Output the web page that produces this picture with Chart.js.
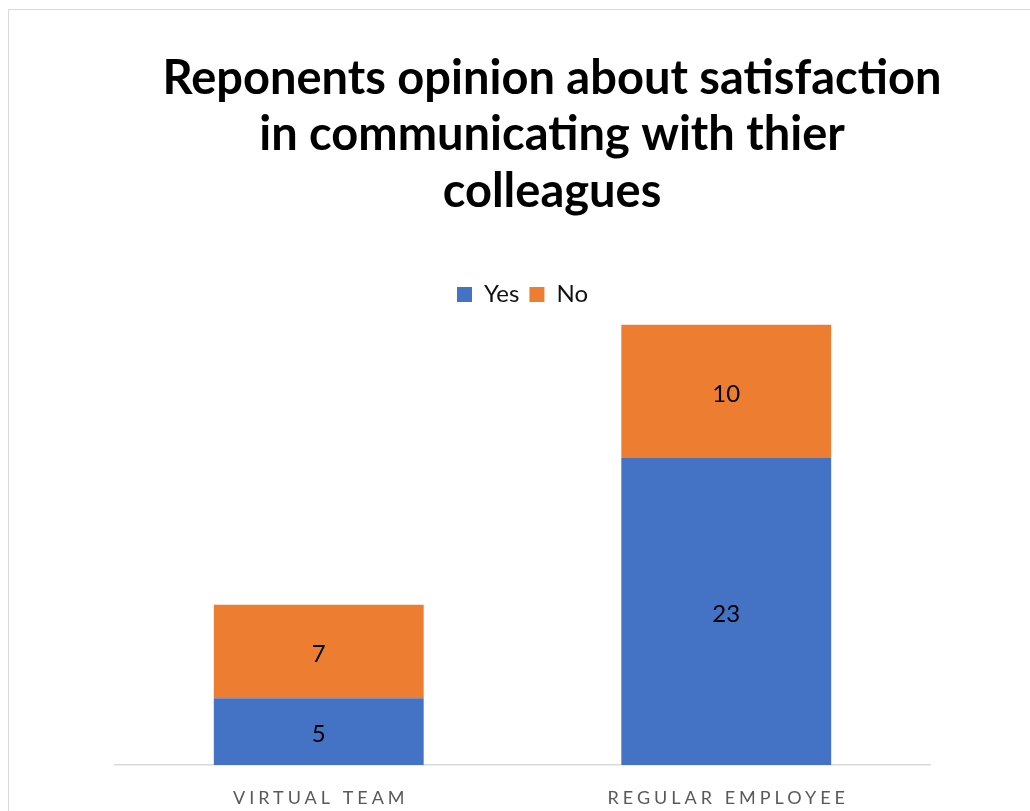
<!DOCTYPE html>
<html>
<head>
<meta charset="utf-8">
<script src="https://cdn.jsdelivr.net/npm/chart.js@4"></script>
<style>
  html, body { margin: 0; padding: 0; background: #fff; overflow: hidden; }
  #frame { position: absolute; left: 8px; top: 9px; width: 1200px; height: 1000px; border: 1px solid #d9d9d9; }
  #c { position: absolute; left: 0; top: 0; }
</style>
</head>
<body>
<div id="frame"></div>
<canvas id="c" width="1104" height="811"></canvas>
<script>
const categories = ['VIRTUAL TEAM', 'REGULAR EMPLOYEE'];
const yesValues = [5, 23];
const noValues = [7, 10];
const seriesNames = ['Yes', 'No'];
const titleLines = ['Reponents opinion about satisfaction', 'in communicating with thier', 'colleagues'];

const FONT = 'Lato, "Open Sans", sans-serif';

// number in the middle of every stacked segment
const segmentLabels = {
    id: 'segmentLabels',
    afterDatasetsDraw(chart) {
        const ctx = chart.ctx;
        ctx.save();
        ctx.font = '24px ' + FONT;
        ctx.fillStyle = '#000';
        ctx.textAlign = 'center';
        ctx.textBaseline = 'middle';
        chart.data.datasets.forEach((ds, i) => {
            chart.getDatasetMeta(i).data.forEach((bar, j) => {
                const { x, y, base } = bar.getProps(['x', 'y', 'base'], true);
                ctx.fillText(ds.data[j], x, (y + base) / 2 + 3);
            });
        });
        ctx.restore();
    }
};

// spaced-out category names under the axis
const categoryLabels = {
    id: 'categoryLabels',
    afterDraw(chart) {
        const ctx = chart.ctx;
        const xs = chart.scales.x;
        const spacing = 4;
        ctx.save();
        ctx.font = '18px ' + FONT;
        ctx.fillStyle = '#595959';
        ctx.textAlign = 'center';
        ctx.textBaseline = 'middle';
        ctx.letterSpacing = spacing + 'px';
        chart.data.labels.forEach((label, i) => {
            ctx.fillText(label, xs.getPixelForTick(i) + spacing / 2, chart.chartArea.bottom + 33);
        });
        ctx.restore();
    }
};

// a little more room between the legend and the bars
const legendGap = {
    id: 'legendGap',
    afterInit(chart) {
        const fit = chart.legend.fit;
        chart.legend.fit = function () {
            fit.call(this);
            this.height += 8;
        };
    }
};

const blankAxis = (position, width) => ({
    position,
    display: true,
    min: 0,
    max: 33,
    stacked: true,
    grid: { display: false, drawTicks: false },
    border: { display: false },
    ticks: { display: false },
    afterFit: s => { s.width = width; }
});

new Chart(document.getElementById('c'), {
    type: 'bar',
    data: {
        labels: categories,
        datasets: [
            { label: seriesNames[0], data: yesValues, backgroundColor: '#4472C4', borderWidth: 0 },
            { label: seriesNames[1], data: noValues, backgroundColor: '#ED7D31', borderWidth: 0 }
        ]
    },
    options: {
        responsive: false,
        animation: false,
        layout: { padding: { left: 0, right: 0, bottom: 38, top: 0 } },
        datasets: { bar: { categoryPercentage: 1, barPercentage: 0.515 } },
        plugins: {
            title: {
                display: true,
                text: titleLines,
                color: '#000',
                font: { family: FONT, size: 47, weight: 'bold', lineHeight: 1.21 },
                padding: { top: 50, bottom: 52 }
            },
            legend: {
                position: 'top',
                fullSize: false,
                labels: {
                    color: '#111',
                    boxWidth: 15,
                    boxHeight: 15,
                    padding: 10,
                    font: { family: FONT, size: 24 }
                }
            },
            tooltip: { enabled: false }
        },
        scales: {
            x: {
                stacked: true,
                grid: { display: false },
                border: { color: '#d9d9d9', width: 1.5 },
                ticks: { display: false }
            },
            y: blankAxis('left', 115),
            y2: blankAxis('right', 174)
        }
    },
    plugins: [segmentLabels, categoryLabels, legendGap]
});
</script>
</body>
</html>
